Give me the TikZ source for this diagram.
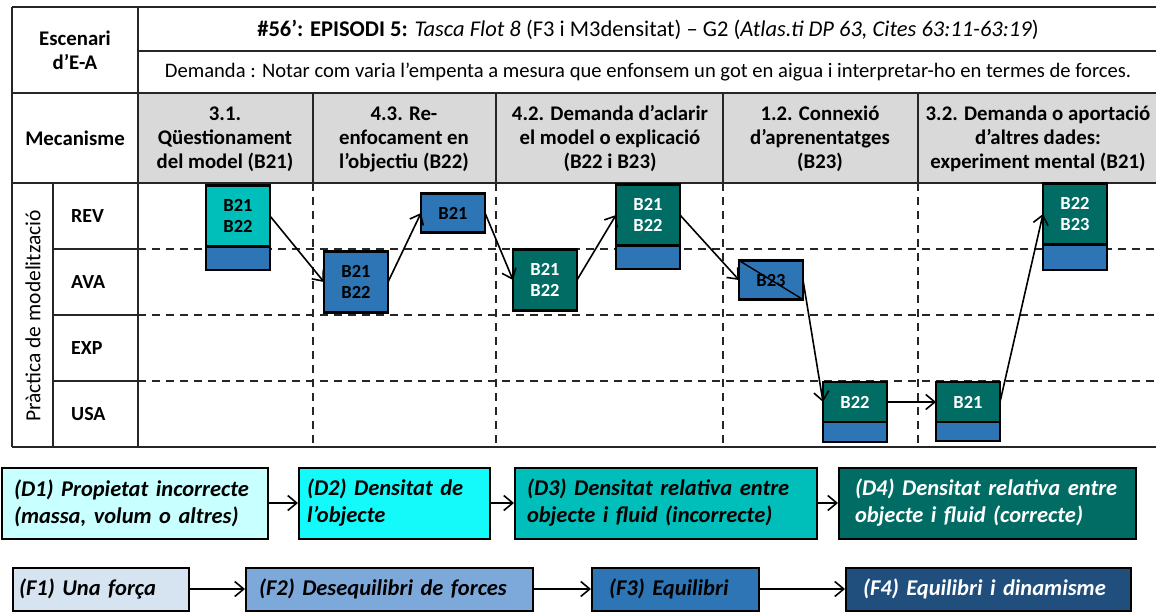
\documentclass[tikz,border=0pt]{standalone}
\usepackage{fontspec}
\setmainfont{Carlito}
\newfontfamily\legfont{Carlito}[WordSpace=0.75]
\usetikzlibrary{arrows.meta,positioning}
\hyphenpenalty=10000
\definecolor{codteal}{RGB}{0,190,185}
\definecolor{coddark}{RGB}{0,108,100}
\definecolor{codblue}{RGB}{46,117,182}
\definecolor{dpale}{RGB}{200,255,255}
\definecolor{dcyan}{RGB}{20,250,250}
\definecolor{fpale}{RGB}{214,228,242}
\definecolor{fmid}{RGB}{125,168,218}
\definecolor{fdark}{RGB}{33,79,125}
\definecolor{headgray}{RGB}{217,217,217}
\definecolor{rule}{RGB}{38,38,38}
\tikzset{
  tline/.style={line width=2pt, rule},
  tdash/.style={line width=2pt, rule, dash pattern=on 8pt off 6pt},
  hdr/.style={font=\fontsize{20.8}{24}\selectfont\bfseries, align=center},
  rowlab/.style={font=\fontsize{20}{22}\selectfont\bfseries, anchor=west, inner sep=0pt},
  cod/.style={rectangle, draw=black, line width=2.2pt, minimum width=64pt,
              minimum height=61pt, inner sep=0pt, outer sep=0pt, align=center,
              font=\fontsize{18.5}{21}\selectfont\bfseries},
  codlow/.style={cod, minimum height=39pt},
  codA/.style={cod, fill=codteal},
  codB/.style={cod, fill=codblue},
  codC/.style={cod, fill=coddark, text=white},
  strip/.style={rectangle, draw=black, line width=2pt, fill=codblue,
                minimum width=64pt, minimum height=23pt, inner sep=0pt, outer sep=0pt},
  flow/.style={-{Straight Barb[length=9pt,width=15pt]}, line width=1.6pt, black},
  leg/.style={rectangle, draw=black, line width=2pt, inner xsep=12pt, inner ysep=0pt,
              align=left, font=\fontsize{22.5}{27}\selectfont\legfont\bfseries\itshape},
  legD/.style={leg, minimum height=71pt},
  legF/.style={leg, minimum height=43pt},
}

\begin{document}
\begin{tikzpicture}[x=1pt, y=-1pt, font=\fontsize{20.6}{24}\selectfont]
  \useasboundingbox (0,0) rectangle (1156,615);

  % --- table frame ----------------------------------------------------------
  \fill[headgray] (138,93) rectangle (1156,183);
  \draw[tline] (12,7) -- (1156,7);
  \draw[tline] (138,51) -- (1156,51);
  \draw[tline] (12,93) -- (1156,93);
  \draw[tline] (12,183) -- (1156,183);
  \draw[tline] (12,447) -- (1156,447);
  \draw[tline] (12,7) -- (12,447);
  \draw[tline] (138,7) -- (138,447);
  \draw[tline] (53,183) -- (53,447);
  \foreach \y in {249,315,381} \draw[tline] (53,\y) -- (138,\y);
  \foreach \x in {313,496,723,918} \draw[tline] (\x,93) -- (\x,183);
  % dashed grid of the practice rows
  \foreach \y in {249,315,381} \draw[tdash] (138,\y) -- (1156,\y);
  \foreach \x in {313,496,723,918} \draw[tdash] (\x,183) -- (\x,447);

  % --- header texts ---------------------------------------------------------
  \node[hdr] (scen) at (75,50) {Escenari\\d’E-A};
  \node[font=\fontsize{22.5}{26}\selectfont] (title) at (648,30)
    {\textbf{\#56’: EPISODI 5:} \textit{Tasca Flot 8}
    (F3 i M3densitat) – G2 (\textit{Atlas.ti DP 63, Cites 63:11-63:19})};
  \node (dem) at (648,72) {Demanda : Notar com varia l’empenta a mesura que
    enfonsem un got en aigua i interpretar-ho en termes de forces.};
  \node[hdr] (mec) at (75,138) {Mecanisme};
  \node[hdr] (m1) at (225,139) {3.1.\\Qüestionament\\del model (B21)};
  \node[hdr] (m2) at (404,139) {4.3. Re-\\enfocament en\\l’objectiu (B22)};
  \node[hdr] (m3) at (610,139) {4.2. Demanda d’aclarir\\el model o explicació\\(B22 i B23)};
  \node[hdr] (m4) at (820,139) {1.2. Connexió\\d’aprenentatges\\(B23)};
  \node[hdr] (m5) at (1038,139) {3.2. Demanda o aportació\\d’altres dades:\\experiment mental (B21)};

  % --- practice rows --------------------------------------------------------
  \node[rotate=90, font=\fontsize{21.5}{24}\selectfont] (prac) at (33,316) {Pràctica de modelització};
  \node[rowlab] (rev) at (71,216) {REV};
  \node[rowlab] (ava) at (71,282) {AVA};
  \node[rowlab] (exp) at (71,348) {EXP};
  \node[rowlab] (usa) at (71,414) {USA};

  % --- codes along the episode ----------------------------------------------
  \node[codA] (b1) at (238,216) {B21\\B22};
  \node[strip, below=0pt of b1] (b1s) {};
  \node[codB] (b2) at (356,282) {B21\\B22};
  \node[codB, codlow] (b3) at (453,213) {B21};
  \node[codC] (b4) at (545,280) {B21\\B22};
  \node[codC] (b5) at (648,215) {B21\\B22};
  \node[strip, below=0pt of b5] (b5s) {};
  \node[codB, codlow, text=black] (b6) at (771,280) {B23};
  \node[codC, codlow, minimum height=40pt] (b7) at (855,402) {B22};
  \node[strip, below=0pt of b7, minimum height=20pt] (b7s) {};
  \node[codC, codlow, minimum height=40pt] (b8) at (968,402) {B21};
  \node[strip, below=0pt of b8, minimum height=19pt] (b8s) {};
  \node[codC] (b9) at (1075,214) {B22\\B23};
  \node[strip, below=0pt of b9, minimum height=25pt] (b9s) {};

  \draw[line width=1.4pt] (b6.north west) -- (b6.south east);
  \draw[flow] (b1.east) -- (b2.west);
  \draw[flow] (b2.east) -- (b3.west);
  \draw[flow] (b3.east) -- (b4.west);
  \draw[flow] (b4.east) -- (b5.west);
  \draw[flow] (b5.east) -- (b6.west);
  \draw[flow] (b6.east) -- (b7.west);
  \draw[flow] (b7.east) -- (b8.west);
  \draw[flow] (b8.east) -- (b9.west);

  % --- density ideas --------------------------------------------------------
  \node[legD, fill=dpale, text width=242pt] (d1) at (135,503)
    {(D1) Propietat incorrecte\\(massa, volum o altres)};
  \node[legD, fill=dcyan, text width=175pt, inner xsep=8pt] (d2) at (394.5,503)
    {(D2) Densitat de\\l’objecte};
  \node[legD, fill=codteal, text width=278pt] (d3) at (666,503)
    {(D3) Densitat relativa entre\\objecte i fluid (incorrecte)};
  \node[legD, fill=coddark, text=white, text width=265pt, inner xsep=16pt] (d4) at (987.5,503)
    {(D4) Densitat relativa entre\\objecte i fluid (correcte)};
  \draw[flow] (d1) -- (d2);
  \draw[flow] (d2) -- (d3);
  \draw[flow] (d3) -- (d4);

  % --- force ideas ----------------------------------------------------------
  \node[legF, fill=fpale, text width=164pt, inner xsep=6pt] (f1) at (101,589) {(F1) Una força};
  \node[legF, fill=fmid, text width=261pt, inner xsep=13pt] (f2) at (389.5,589) {(F2) Desequilibri de forces};
  \node[legF, fill=codblue, text width=133pt, inner xsep=17pt] (f3) at (675.5,589) {(F3) Equilibri};
  \node[legF, fill=fdark, text=white, text width=251pt, inner xsep=17pt] (f4) at (988.5,589) {(F4) Equilibri i dinamisme};
  \draw[flow] (f1) -- (f2);
  \draw[flow] (f2) -- (f3);
  \draw[flow] (f3) -- (f4);
\end{tikzpicture}
\end{document}
